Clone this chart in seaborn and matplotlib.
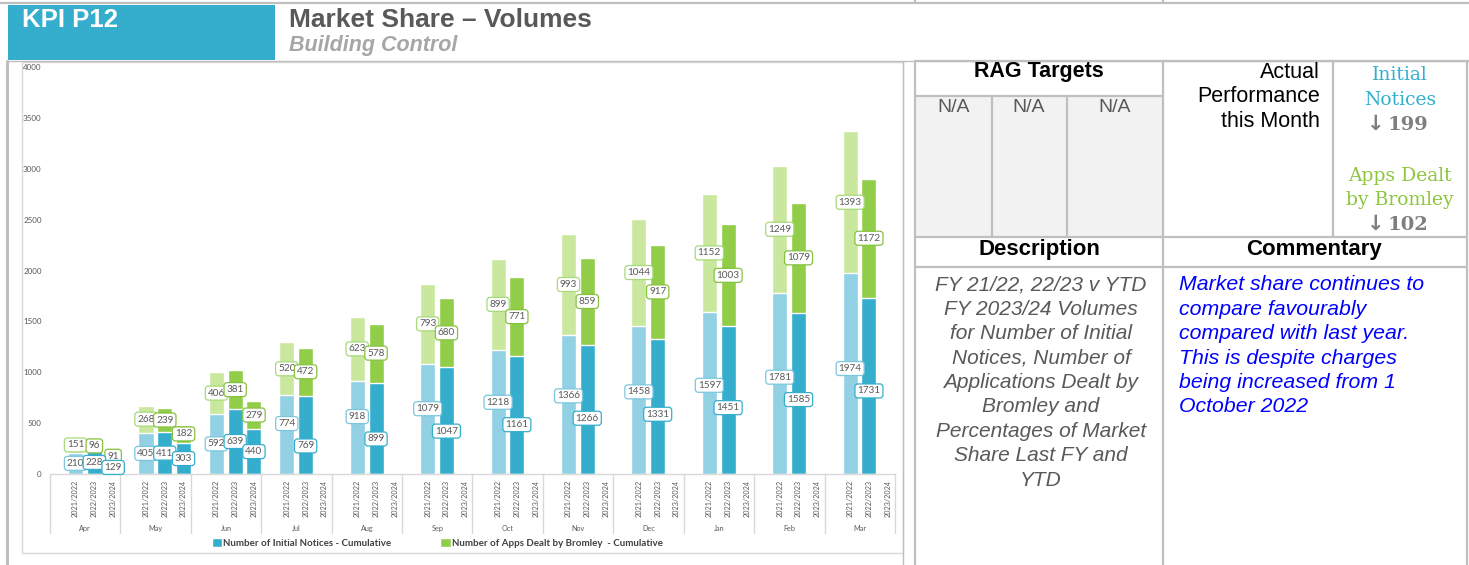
import numpy as np
import pandas as pd
import matplotlib.pyplot as plt
import seaborn as sns
from matplotlib.lines import Line2D
from matplotlib.patches import Rectangle, Patch

W, H = 1469, 565

months = ["Apr", "May", "Jun", "Jul", "Aug", "Sep", "Oct", "Nov", "Dec", "Jan", "Feb", "Mar"]
years = ["2021/2022", "2022/2023", "2023/2024"]

notices_2122 = [210, 405, 592, 774, 918, 1079, 1218, 1366, 1458, 1597, 1781, 1974]
notices_2223 = [228, 411, 639, 769, 899, 1047, 1161, 1266, 1331, 1451, 1585, 1731]
notices_2324 = [129, 303, 440, None, None, None, None, None, None, None, None, None]
apps_2122 = [151, 268, 406, 520, 623, 793, 899, 993, 1044, 1152, 1249, 1393]
apps_2223 = [96, 239, 381, 472, 578, 680, 771, 859, 917, 1003, 1079, 1172]
apps_2324 = [91, 182, 279, None, None, None, None, None, None, None, None, None]

blue_pal = ["#92D1E3", "#35AECD", "#35AECD"]
green_pal = ["#C9E89D", "#92CD4A", "#92CD4A"]
blue_edge = ["#7CC7DE", "#35AECD", "#35AECD"]
green_edge = ["#A8D97A", "#86C23E", "#86C23E"]

rag_labels = ["N/A", "N/A", "N/A"]
actual_text = ["Actual", "Performance", "this Month"]
in_label, in_value = ["Initial", "Notices"], "199"
apps_label, apps_value = ["Apps Dealt", "by Bromley"], "102"
description = ["FY 21/22, 22/23 v YTD", "FY 2023/24 Volumes", "for Number of Initial",
               "Notices, Number of", "Applications Dealt by", "Bromley and",
               "Percentages of Market", "Share Last FY and", "YTD"]
commentary = ["Market share continues to", "compare favourably", "compared with last year.",
              "This is despite charges", "being increased from 1", "October 2022"]

rows = []
for yr, ins, aps in zip(years, [notices_2122, notices_2223, notices_2324],
                        [apps_2122, apps_2223, apps_2324]):
    for m, i, a in zip(months, ins, aps):
        rows.append({"month": m, "year": yr, "initial": i, "apps": a})
df = pd.DataFrame(rows).astype({"initial": float, "apps": float})
df["total"] = df["initial"] + df["apps"]

sns.set_style("white")
plt.rcParams["font.family"] = ["Liberation Sans", "DejaVu Sans"]
CHART_FONT = ["Lato", "DejaVu Sans"]
GREY = "#595959"
LINE = "#BFBFBF"

fig = plt.figure(figsize=(W / 100, H / 100), dpi=100)


def fx(x):
    return x / W


def fy(y):
    return 1 - y / H


def hline(y, x0, x1, color=LINE, lw=1.6):
    fig.add_artist(Line2D([fx(x0), fx(x1)], [fy(y), fy(y)], color=color, lw=lw))


def vline(x, y0, y1, color=LINE, lw=1.6):
    fig.add_artist(Line2D([fx(x), fx(x)], [fy(y0), fy(y1)], color=color, lw=lw))


def rect(x0, y0, x1, y1, **kw):
    fig.add_artist(Rectangle((fx(x0), fy(y1)), fx(x1) - fx(x0), fy(y0) - fy(y1),
                             transform=fig.transFigure, zorder=-1, **kw))


# ---- header ----
hline(3, 0, W)
vline(915, 0, 3)
vline(1163, 0, 3)
rect(8, 5, 275, 60, facecolor="#35ADCD", edgecolor="none")
fig.text(fx(22), fy(20), "KPI P12", color="white", fontsize=18.5, fontweight="bold", va="center")
fig.text(fx(289), fy(20), "Market Share \u2013 Volumes", color=GREY, fontsize=19,
         fontweight="bold", va="center")
fig.text(fx(289), fy(46), "Building Control", color="#A6A6A6", fontsize=15.5,
         fontweight="bold", fontstyle="italic", va="center")
hline(61, 275, W, lw=1.0)
hline(61, 7, 275, lw=1.0)
vline(7, 61, H, lw=2.2)

# ---- chart ----
rect(22, 62, 903, 553, facecolor="white", edgecolor="#D9D9D9", lw=1.0)
ax = fig.add_axes([fx(50), fy(474), fx(895) - fx(50), fy(67) - fy(474)])
ax.patch.set_alpha(0)

sns.barplot(data=df, x="month", y="total", hue="year", order=months, hue_order=years,
            palette=green_pal, saturation=1, width=0.8, gap=0.2, errorbar=None,
            legend=False, ax=ax)
sns.barplot(data=df, x="month", y="initial", hue="year", order=months, hue_order=years,
            palette=blue_pal, saturation=1, width=0.8, gap=0.2, errorbar=None,
            legend=False, ax=ax)

# label positions: segment centres, then the two blue labels of a month are
# pushed apart where they would collide (as done by hand in the source chart)
green_lab, blue_lab = {}, {}
for j, yr in enumerate(years):
    sub = df[df["year"] == yr].dropna()
    for bar, (_, r) in zip(ax.containers[j], sub.iterrows()):
        xc = bar.get_x() + bar.get_width() / 2
        green_lab[(r["month"], j)] = [xc, r["initial"] + r["apps"] / 2, int(r["apps"])]
    for bar, (_, r) in zip(ax.containers[3 + j], sub.iterrows()):
        xc = bar.get_x() + bar.get_width() / 2
        blue_lab[(r["month"], j)] = [xc, r["initial"] / 2, int(r["initial"])]

min_sep = 220
for m in months:
    if (m, 2) in blue_lab:
        continue
    a, b = blue_lab[(m, 0)], blue_lab[(m, 1)]
    mid = (a[1] + b[1]) / 2
    if abs(a[1] - b[1]) < min_sep:
        a[1], b[1] = mid + min_sep / 2, mid - min_sep / 2

label_kw = dict(ha="center", va="center", fontsize=7.2, color=GREY, family=CHART_FONT)
for labs, edges in [(green_lab, green_edge), (blue_lab, blue_edge)]:
    for (m, j), (xc, yc, val) in labs.items():
        ax.text(xc, yc, f"{val}",
                bbox=dict(boxstyle="round,pad=0.25,rounding_size=0.3", fc="white",
                          ec=edges[j], lw=0.9), **label_kw)

shift = 0.13
ax.set_xlim(-0.5 - shift, len(months) - 0.5 - shift)
ax.set_ylim(0, 4000)
ax.set_yticks(np.arange(0, 4001, 500))
ax.tick_params(axis="y", length=0, labelsize=5.8, labelcolor=GREY, pad=6)
for t in ax.get_yticklabels():
    t.set_family(CHART_FONT)

dodge = 0.8 / len(years)
xt, xl = [], []
for k in range(len(months)):
    for j, yr in enumerate(years):
        xt.append(k + (j - 1) * dodge)
        xl.append(yr)
ax.set_xticks(xt)
ax.set_xticklabels(xl, rotation=90, fontsize=5.2, color=GREY, family=CHART_FONT)
ax.tick_params(axis="x", length=0, pad=4)
ax.set_xlabel("")
ax.set_ylabel("")
for s in ["top", "right", "left"]:
    ax.spines[s].set_visible(False)
ax.spines["bottom"].set_color("#D9D9D9")
ax.spines["bottom"].set_linewidth(1.0)

tr = ax.get_xaxis_transform()
for k in range(len(months) + 1):
    ax.plot([k - 0.5 - shift] * 2, [0, -0.145], transform=tr, color="#D9D9D9",
            lw=1.0, clip_on=False)
for k, m in enumerate(months):
    ax.text(k - shift, -0.133, m, transform=tr, ha="center", va="center",
            fontsize=5.2, color=GREY, family=CHART_FONT)

handles = [Patch(facecolor=blue_pal[1]), Patch(facecolor=green_pal[1])]
fig.legend(handles, ["Number of Initial Notices - Cumulative",
                     "Number of Apps Dealt by Bromley  - Cumulative"],
           loc="center", bbox_to_anchor=(fx(437), fy(543)), ncol=2, frameon=False,
           handlelength=1.1, handleheight=1.1, handletextpad=0.1, columnspacing=5.0,
           prop=dict(family=CHART_FONT, size=7, weight="bold"), labelcolor="#404040")

# ---- table ----
rect(916, 96, 1163, 237, facecolor="#F2F2F2", edgecolor="none")
vline(903, 62, H, lw=1.0)
vline(915, 61, H)
vline(1163, 61, H)
vline(1467, 61, H)
vline(1333, 61, 237)
vline(992, 96, 237)
vline(1067, 96, 237)
hline(61, 915, W)
hline(96, 915, 1163)
hline(237, 915, 1467)
hline(267, 915, 1467)

fig.text(fx(1039), fy(72), "RAG Targets", fontsize=15.5, fontweight="bold", ha="center",
         va="center", color="black")
for xc, lab in zip([954, 1029, 1115], rag_labels):
    fig.text(fx(xc), fy(108), lab, fontsize=14, ha="center", va="center", color=GREY)
for i, line in enumerate(actual_text):
    fig.text(fx(1320), fy(72 + 24.5 * i), line, fontsize=15.5, ha="right", va="center",
             color="black")

serif = ["DejaVu Serif", "DejaVu Sans"]
for i, line in enumerate(in_label):
    fig.text(fx(1400), fy(75 + 25 * i), line, fontsize=13.5, ha="center", va="center",
             color="#31B0CE", family=serif)
for i, line in enumerate(apps_label):
    fig.text(fx(1400), fy(176 + 24 * i), line, fontsize=13.5, ha="center", va="center",
             color="#8DC63F", family=serif)
for yc, val in [(125, in_value), (225, apps_value)]:
    fig.text(fx(1376), fy(yc - 1), "\u2193", fontsize=15, ha="center", va="center",
             color="#7F7F7F", family=["DejaVu Sans"], fontweight="bold")
    fig.text(fx(1408), fy(yc), val, fontsize=14, ha="center", va="center",
             color="#7F7F7F", family=serif, fontweight="bold")

fig.text(fx(1039), fy(249), "Description", fontsize=16, fontweight="bold", ha="center",
         va="center", color="black")
fig.text(fx(1314), fy(249), "Commentary", fontsize=16, fontweight="bold", ha="center",
         va="center", color="black")
for i, line in enumerate(description):
    fig.text(fx(1041), fy(285 + 24.4 * i), line, fontsize=15, fontstyle="italic",
             ha="center", va="center", color=GREY)
for i, line in enumerate(commentary):
    fig.text(fx(1179), fy(285 + 24.4 * i), line, fontsize=15.3, fontstyle="italic",
             ha="left", va="center", color="#0000FF")

fig.savefig("out.png", dpi=100, facecolor="white")
